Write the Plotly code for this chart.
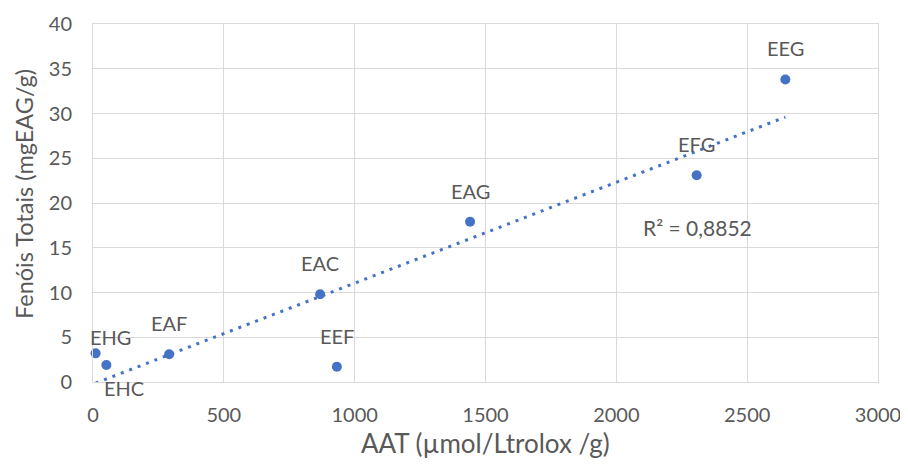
import numpy as np
import plotly.graph_objects as go

labels = ["EHG", "EHC", "EAF", "EAC", "EEF", "EAG", "EFG", "EEG"]
aat = [10, 51, 291, 868, 932, 1441, 2307, 2646]
fenois = [3.2, 1.9, 3.1, 9.8, 1.7, 17.9, 23.1, 33.8]
r2_text = "R² = 0,8852"

x_ticks = [0, 500, 1000, 1500, 2000, 2500, 3000]
y_ticks = [0, 5, 10, 15, 20, 25, 30, 35, 40]

blue = "#4472C4"
txt = "#595959"
grid = "#d9d9d9"
FONT = "Lato"

slope, intercept = np.polyfit(aat, fenois, 1)
tx = [min(aat), max(aat)]
ty = [slope * v + intercept for v in tx]

fig = go.Figure()
fig.add_trace(go.Scatter(x=tx, y=ty, mode="lines",
                         line=dict(color=blue, width=3, dash="3px,6px"),
                         hoverinfo="skip", showlegend=False))
fig.add_trace(go.Scatter(x=aat, y=fenois, mode="markers",
                         marker=dict(color=blue, size=10),
                         showlegend=False, cliponaxis=False))

offsets = {"EHG": (15, 16), "EHC": (18, -23)}
for lab, xv, yv in zip(labels, aat, fenois):
    dx, dy = offsets.get(lab, (0, 31))
    fig.add_annotation(x=xv, y=yv, text=lab, showarrow=False,
                       xshift=dx, yshift=dy, xanchor="center", yanchor="middle",
                       font=dict(family=FONT, size=20, color=txt))

fig.add_annotation(x=2310, y=17.3, text=r2_text, showarrow=False,
                   xanchor="center", yanchor="middle",
                   font=dict(family=FONT, size=21, color=txt))

fig.add_annotation(xref="paper", yref="paper", x=0.5, y=0, yshift=-61,
                   xanchor="center", yanchor="middle",
                   text="AAT (µmol/Ltrolox /g)", showarrow=False,
                   font=dict(family=FONT, size=26, color=txt))
fig.add_annotation(xref="paper", yref="paper", x=0, y=0.5, xshift=-69, yshift=9,
                   xanchor="center", yanchor="middle",
                   text="Fenóis Totais (mgEAG/g)", showarrow=False, textangle=-90,
                   font=dict(family=FONT, size=23.5, color=txt))

fig.update_layout(
    width=908, height=466,
    margin=dict(l=85, r=38, t=16, b=92, autoexpand=False),
    paper_bgcolor="white", plot_bgcolor="white",
    font=dict(family=FONT, color=txt),
    xaxis=dict(range=[0, 3000], tickvals=x_ticks, showgrid=True, gridcolor=grid,
               gridwidth=1, zeroline=False, showline=True, linecolor=grid,
               mirror=True, ticks="", ticklabelstandoff=15, automargin=False,
               tickfont=dict(family=FONT, size=20, color=txt)),
    yaxis=dict(range=[0, 40], tickvals=y_ticks, showgrid=True, gridcolor=grid,
               gridwidth=1, zeroline=False, showline=True, linecolor=grid,
               mirror=True, ticks="", ticklabelstandoff=16, automargin=False,
               tickfont=dict(family=FONT, size=20, color=txt)),
)

fig.write_html("out.html")
